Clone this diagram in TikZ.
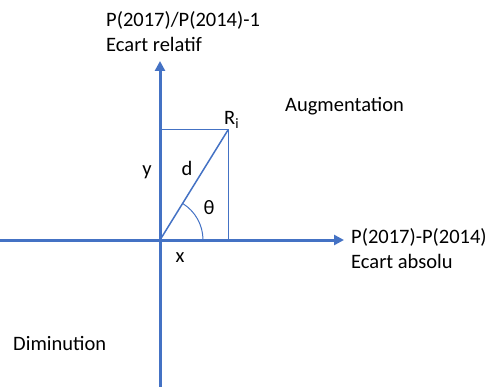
\documentclass[tikz,border=0pt]{standalone}
\usepackage{fontspec}
\setmainfont{Carlito}
\usetikzlibrary{arrows.meta,calc}
\definecolor{axe}{HTML}{4472C4}

\begin{document}
\begin{tikzpicture}[
  x=1pt, y=-1pt,
  axis/.style={draw=axe, line width=3pt, -{Triangle[length=10pt,width=10pt]}},
  guide/.style={draw=axe, line width=1pt},
  vect/.style={draw=axe, line width=1.5pt},
  lbl/.style={font=\fontsize{20.5}{24}\selectfont, inner sep=0pt}
  ]
  \useasboundingbox (0,0) rectangle (489,387);
  \coordinate (o) at (160,240);
  \coordinate (ri) at (228,130);
  \coordinate (yaxis) at (160,130);
  \coordinate (xaxis) at (228,240);
  \coordinate (bot) at (160,387);
  \coordinate (top) at (160,61);
  \coordinate (left) at (0,240);
  \coordinate (right) at (344,240);
  % axes
  \draw[axis] (bot) -- (top);
  \draw[axis] (left) -- (right);
  % projections of R_i
  \draw[guide] (yaxis) -- (ri) -- (xaxis);
  \draw[vect] (o) -- (ri);
  \draw[guide] ($(o)+(43,0)$) arc[start angle=0, end angle=-58.3, radius=43];
  % labels
  \node[lbl, anchor=base west] (rlab) at (224,125) {R\textsubscript{i}};
  \node[lbl] (dlab) at (187,168) {d};
  \node[lbl] (tlab) at (209,208) {θ};
  \node[lbl] (ylab) at (147,172) {y};
  \node[lbl] (xlab) at (180,258) {x};
  \node[lbl, anchor=base west] (aug) at (285,112) {Augmentation};
  \node[lbl, anchor=base west] (dim) at (13,350) {Diminution};
  \node[lbl, anchor=base west] (ylab1) at (106,27) {P(2017)/P(2014)-1};
  \node[lbl, anchor=base west] (ylab2) at (106,52) {Ecart relatif};
  \node[lbl, anchor=base west] (xlab1) at (351,243) {P(2017)-P(2014)};
  \node[lbl, anchor=base west] (xlab2) at (351,268) {Ecart absolu};
\end{tikzpicture}
\end{document}
